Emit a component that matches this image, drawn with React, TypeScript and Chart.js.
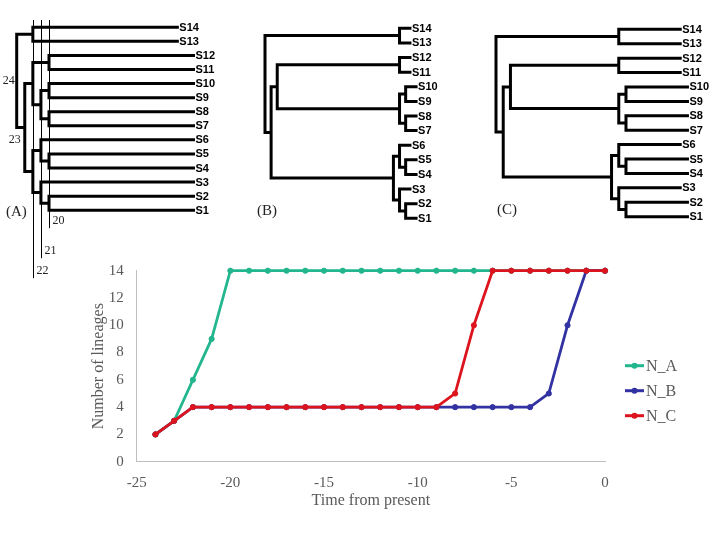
import { useEffect, useRef } from "react";
import { Chart, registerables } from "chart.js";

Chart.register(...registerables);

type TreeNode = string | [number, TreeNode, TreeNode];

// ---- Data: genealogies (node heights = time before present) ----
const treeA: TreeNode = [24, [22, "S14", "S13"], [23, [22, [20, "S12", "S11"], [21, [20, "S10", "S9"], [20, "S8", "S7"]]], [22, [21, "S6", [20, "S5", "S4"]], [21, "S3", [20, "S2", "S1"]]]]];
const treeB: TreeNode = [24, [2, "S14", "S13"], [23, [22, [2, "S12", "S11"], [2, [1, "S10", "S9"], [1, "S8", "S7"]]], [3, [2, "S6", [1, "S5", "S4"]], [2, "S3", [1, "S2", "S1"]]]]];
const treeC: TreeNode = [24, [7, "S14", "S13"], [23, [22, [7, "S12", "S11"], [7, [6, "S10", "S9"], [6, "S8", "S7"]]], [8, [7, "S6", [6, "S5", "S4"]], [7, "S3", [6, "S2", "S1"]]]]];

const tipAtA = -1.92;
const tipOverridesA: Record<string, number> = { S14: -3.92, S13: -3.92 };
const tipLenB = 1.95;
const tipLenC = 8.72;
const refTimesA = [20, 21, 22];
const nodeLabelsA = [24, 23];
const panelLabels = ["(A)", "(B)", "(C)"];

// ---- Data: lineage-through-time ----
const times = [-24, -23, -22, -21, -20, -19, -18, -17, -16, -15, -14, -13, -12, -11, -10, -9, -8, -7, -6, -5, -4, -3, -2, -1, 0];
const nA = [2, 3, 6, 9, 14, 14, 14, 14, 14, 14, 14, 14, 14, 14, 14, 14, 14, 14, 14, 14, 14, 14, 14, 14, 14];
const nB = [2, 3, 4, 4, 4, 4, 4, 4, 4, 4, 4, 4, 4, 4, 4, 4, 4, 4, 4, 4, 4, 5, 10, 14, 14];
const nC = [2, 3, 4, 4, 4, 4, 4, 4, 4, 4, 4, 4, 4, 4, 4, 4, 5, 10, 14, 14, 14, 14, 14, 14, 14];
const seriesNames = ["N_A", "N_B", "N_C"];
const seriesColors = ["#22b68e", "#3232a2", "#dc141e"];
const xTitle = "Time from present";
const yTitle = "Number of lineages";

const GRAY = "#595959";
const SERIF = '"Liberation Serif", "Times New Roman", serif';
const SANS = '"Liberation Sans", Arial, sans-serif';

interface TreeCfg {
  tree: TreeNode;
  tipLen?: number;
  tipAt?: number;
  tipOverrides?: Record<string, number>;
  xMin: number;
  xMax: number;
  pad: { left: number; right: number; top: number; bottom: number };
  panel: string;
  panelPos: { x: number; y: number };
  refTimes?: number[];
  nodeLabels?: number[];
}

function layoutTree(cfg: TreeCfg) {
  const pts: { x: number | null; y: number | null }[] = [];
  const leaves: { name: string; x: number; y: number }[] = [];
  const nodes: { h: number; x: number; y: number }[] = [];
  let idx = 0;
  const walk = (n: TreeNode, parentH: number): { x: number; y: number } => {
    if (typeof n === "string") {
      let tx: number;
      if (cfg.tipOverrides && cfg.tipOverrides[n] !== undefined) tx = cfg.tipOverrides[n];
      else if (cfg.tipAt !== undefined) tx = cfg.tipAt;
      else tx = -parentH + (cfg.tipLen || 0);
      const p = { x: tx, y: idx++ };
      leaves.push({ name: n, ...p });
      return p;
    }
    const [h, a, b] = n;
    const pa = walk(a, h);
    const pb = walk(b, h);
    const x = -h;
    pts.push({ x: pa.x, y: pa.y }, { x, y: pa.y }, { x, y: pb.y }, { x: pb.x, y: pb.y }, { x: null, y: null });
    const node = { h, x, y: (pa.y + pb.y) / 2 };
    nodes.push(node);
    return node;
  };
  walk(cfg.tree, cfg.tree[0] as number);
  return { pts, leaves, nodes };
}

function makeTree(canvas: HTMLCanvasElement, cfg: TreeCfg) {
  const { pts, leaves, nodes } = layoutTree(cfg);
  const textPlugin = {
    id: "treeText",
    afterDatasetsDraw(chart: any) {
      const { ctx, scales, chartArea } = chart;
      const xs = scales.x;
      const ys = scales.y;
      ctx.save();
      ctx.fillStyle = "#000";
      ctx.textBaseline = "middle";
      ctx.textAlign = "left";
      ctx.font = `bold 11px ${SANS}`;
      for (const l of leaves) {
        ctx.fillText(l.name, xs.getPixelForValue(l.x) + 0.5, ys.getPixelForValue(l.y) + 0.5);
      }
      ctx.font = `15px ${SERIF}`;
      ctx.fillStyle = "#222";
      ctx.fillText(cfg.panel, cfg.panelPos.x, cfg.panelPos.y);
      if (cfg.refTimes) {
        const extra = [18, 48, 68];
        ctx.strokeStyle = "#000";
        ctx.lineWidth = 1;
        ctx.font = `12px ${SERIF}`;
        cfg.refTimes.forEach((t, i) => {
          const px = Math.round(xs.getPixelForValue(-t)) + 0.5;
          const bottom = chartArea.bottom + extra[i];
          ctx.beginPath();
          ctx.moveTo(px, 20);
          ctx.lineTo(px, bottom);
          ctx.stroke();
          ctx.fillText(String(t), px + 3, bottom - 7);
        });
      }
      if (cfg.nodeLabels) {
        const offs = [[-2, 0], [-4, 12]];
        ctx.font = `12px ${SERIF}`;
        ctx.textAlign = "right";
        cfg.nodeLabels.forEach((h, i) => {
          const nd = nodes.find((n) => n.h === h && (i === 0 ? true : true));
          const cand = nodes.filter((n) => n.h === h);
          const node = i === 0 ? cand[cand.length - 1] : cand[0] || nd;
          if (!node) return;
          ctx.fillText(String(h), xs.getPixelForValue(node.x) + offs[i][0], ys.getPixelForValue(node.y) + offs[i][1]);
        });
      }
      ctx.restore();
    },
  };
  return new Chart(canvas, {
    type: "line",
    data: {
      datasets: [
        {
          data: pts as any,
          borderColor: "#000",
          borderWidth: 3,
          pointRadius: 0,
          tension: 0,
          spanGaps: false,
          borderJoinStyle: "miter",
          borderCapStyle: "butt",
          clip: false as any,
        },
      ],
    },
    options: {
      animation: false,
      responsive: false,
      events: [],
      layout: { padding: cfg.pad },
      scales: {
        x: { type: "linear", display: false, min: cfg.xMin, max: cfg.xMax },
        y: { type: "linear", display: false, min: 0, max: 13, reverse: true },
      },
      plugins: { legend: { display: false }, tooltip: { enabled: false } },
    },
    plugins: [textPlugin],
  });
}

function makeLine(canvas: HTMLCanvasElement) {
  const series = [nA, nB, nC];
  const legendPlugin = {
    id: "sideLegend",
    afterDraw(chart: any) {
      const { ctx, chartArea } = chart;
      ctx.save();
      ctx.font = `16px ${SERIF}`;
      ctx.textBaseline = "middle";
      ctx.textAlign = "left";
      seriesNames.forEach((name, i) => {
        const y = chartArea.top + 95 + 25 * i;
        const x0 = chartArea.right + 20;
        ctx.strokeStyle = seriesColors[i];
        ctx.lineWidth = 3;
        ctx.beginPath();
        ctx.moveTo(x0, y);
        ctx.lineTo(x0 + 19, y);
        ctx.stroke();
        ctx.fillStyle = seriesColors[i];
        ctx.beginPath();
        ctx.arc(x0 + 9.5, y, 3, 0, Math.PI * 2);
        ctx.fill();
        ctx.fillStyle = GRAY;
        ctx.fillText(name, x0 + 21, y + 1);
      });
      ctx.restore();
    },
  };
  return new Chart(canvas, {
    type: "line",
    data: {
      datasets: series.map((vals, i) => ({
        label: seriesNames[i],
        data: times.map((t, j) => ({ x: t, y: vals[j] })),
        borderColor: seriesColors[i],
        backgroundColor: seriesColors[i],
        pointBackgroundColor: seriesColors[i],
        pointBorderColor: seriesColors[i],
        borderWidth: 2.75,
        pointRadius: 2.6,
        pointBorderWidth: 1,
        tension: 0,
        order: 3 - i,
        clip: false as any,
      })),
    },
    options: {
      animation: false,
      responsive: false,
      events: [],
      layout: { padding: { left: 86.7, right: 115, top: 270.7, bottom: 28.3 } },
      scales: {
        x: {
          type: "linear",
          min: -25,
          max: 0,
          grid: { display: false, drawTicks: false },
          border: { display: true, color: "#bfbfbf", width: 1 },
          ticks: { stepSize: 5, padding: 12, color: GRAY, font: { family: SERIF, size: 15 }, maxRotation: 0 },
          title: { display: true, text: xTitle, color: GRAY, font: { family: SERIF, size: 16 }, padding: { top: 0, bottom: 1 } },
          afterFit: (s: any) => {
            s.height = 50;
          },
        },
        y: {
          type: "linear",
          min: 0,
          max: 14,
          grid: { display: false, drawTicks: false },
          border: { display: true, color: "#bfbfbf", width: 1 },
          ticks: { stepSize: 2, padding: 13, color: GRAY, font: { family: SERIF, size: 15 } },
          title: { display: true, text: yTitle, color: GRAY, font: { family: SERIF, size: 16 }, padding: { top: 2, bottom: 0 } },
          afterFit: (s: any) => {
            s.width = 50;
          },
        },
      },
      plugins: { legend: { display: false }, tooltip: { enabled: false } },
    },
    plugins: [legendPlugin],
  });
}

export default function App() {
  const lineRef = useRef<HTMLCanvasElement>(null);
  const aRef = useRef<HTMLCanvasElement>(null);
  const bRef = useRef<HTMLCanvasElement>(null);
  const cRef = useRef<HTMLCanvasElement>(null);

  useEffect(() => {
    const charts: Chart[] = [];
    if (lineRef.current) charts.push(makeLine(lineRef.current));
    if (aRef.current)
      charts.push(
        makeTree(aRef.current, {
          tree: treeA,
          tipAt: tipAtA,
          tipOverrides: tipOverridesA,
          xMin: -24,
          xMax: 0,
          pad: { left: 16.7, right: 509.5, top: 27.3, bottom: 329.8 },
          panel: panelLabels[0],
          panelPos: { x: 6, y: 212 },
          refTimes: refTimesA,
          nodeLabels: nodeLabelsA,
        })
      );
    if (bRef.current)
      charts.push(
        makeTree(bRef.current, {
          tree: treeB,
          tipLen: tipLenB,
          xMin: -24,
          xMax: 2,
          pad: { left: 265, right: 296, top: 28.3, bottom: 321.7 },
          panel: panelLabels[1],
          panelPos: { x: 257, y: 211 },
        })
      );
    if (cRef.current)
      charts.push(
        makeTree(cRef.current, {
          tree: treeC,
          tipLen: tipLenC,
          xMin: -24,
          xMax: 4,
          pad: { left: 496, right: 21.8, top: 29.3, bottom: 323.3 },
          panel: panelLabels[2],
          panelPos: { x: 497, y: 210 },
        })
      );
    return () => charts.forEach((c) => c.destroy());
  }, []);

  const cv: React.CSSProperties = { position: "absolute", left: 0, top: 0, width: 720, height: 540 };
  return (
    <div style={{ position: "absolute", left: 0, top: 0, width: 720, height: 540, background: "#fff", overflow: "hidden" }}>
      <canvas ref={lineRef} width={720} height={540} style={cv} />
      <canvas ref={aRef} width={720} height={540} style={cv} />
      <canvas ref={bRef} width={720} height={540} style={cv} />
      <canvas ref={cRef} width={720} height={540} style={cv} />
    </div>
  );
}
